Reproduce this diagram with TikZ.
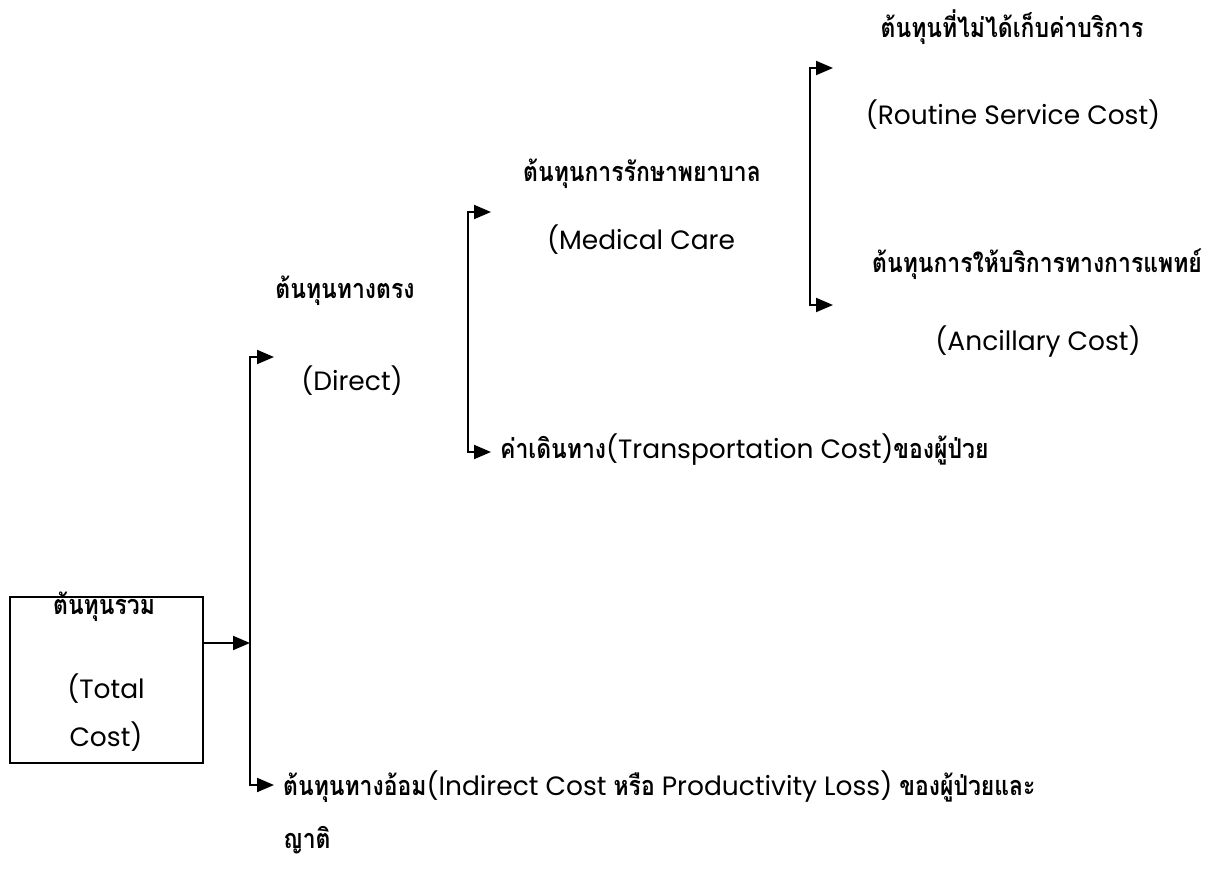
\documentclass[tikz,border=0pt]{standalone}
\usepackage{fontspec}
\setmainfont{Poppins}
\newfontfamily\thfont[Script=Thai,FakeStretch=0.85]{Loma}
\newcommand\T[1]{{\thfont\bfseries\fontsize{27}{30}\selectfont #1}}
\usetikzlibrary{arrows.meta}
\begin{document}
\begin{tikzpicture}[x=1pt,y=-1pt,
  lbl/.style={inner sep=0pt,font=\fontsize{26.5}{30}\selectfont},
  arr/.style={line width=2pt,-{Triangle[length=17pt,width=14pt]}},
  boxst/.style={draw,line width=2pt,minimum width=193pt,minimum height=166pt,inner sep=0pt}]
\useasboundingbox (0,0) rectangle (1227,873);
% total cost box
\node[boxst] (total) at (106.5,680) {};
\node[lbl] (tc1) at (104,607) {\T{ต้นทุนรวม}};
\node[lbl] (tc2) at (106,689) {(Total};
\node[lbl] (tc3) at (106,737) {Cost)};
% first bracket
\coordinate (j1) at (250,643);
\coordinate (a1t) at (274,357);
\coordinate (a1b) at (274,785);
\draw[arr] (total.east |- j1) -- (j1);
\draw[arr] (j1) |- (a1t);
\draw[arr] (j1) |- (a1b);
\node[lbl] (dir1) at (345,291) {\T{ต้นทุนทางตรง}};
\node[lbl] (dir2) at (352,381) {(Direct)};
\node[lbl,anchor=west] (ind1) at (283,787) {\T{ต้นทุนทางอ้อม}(Indirect Cost \T{หรือ} Productivity Loss) \T{ของผู้ป่วยและ}};
\node[lbl,anchor=west] (ind2) at (283,840) {\T{ญาติ}};
% second bracket
\coordinate (j2) at (468,330);
\coordinate (a2t) at (491,212);
\coordinate (a2b) at (491,452);
\draw[arr] (j2) |- (a2t);
\draw[arr] (j2) |- (a2b);
\node[lbl] (med1) at (642,174) {\T{ต้นทุนการรักษาพยาบาล}};
\node[lbl] (med2) at (641,240) {(Medical Care};
\node[lbl,anchor=west] (tra) at (500,450) {\T{ค่าเดินทาง}(Transportation Cost)\T{ของผู้ป่วย}};
% third bracket
\coordinate (j3) at (810,186);
\coordinate (a3t) at (833,68);
\coordinate (a3b) at (833,305);
\draw[arr] (j3) |- (a3t);
\draw[arr] (j3) |- (a3b);
\node[lbl] (rt1) at (1012,27) {\T{ต้นทุนที่ไม่ได้เก็บค่าบริการ}};
\node[lbl] (rt2) at (1013,115) {(Routine Service Cost)};
\node[lbl] (an1) at (1037,264) {\T{ต้นทุนการให้บริการทางการแพทย์}};
\node[lbl] (an2) at (1038,342) {(Ancillary Cost)};
\end{tikzpicture}
\end{document}
